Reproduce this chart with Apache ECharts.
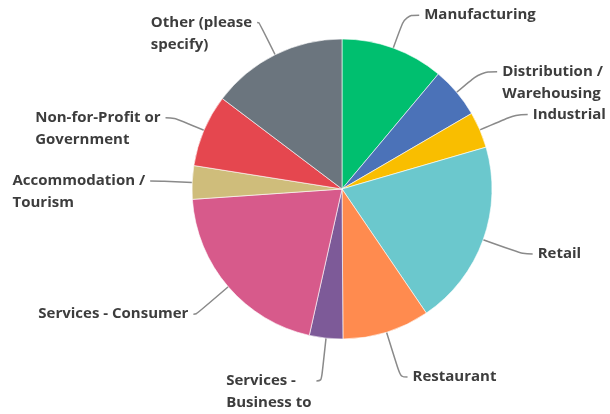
<!DOCTYPE html>
<html>
<head>
<meta charset="utf-8">
<script src="https://cdn.jsdelivr.net/npm/echarts@6/dist/echarts.min.js"></script>
<style>
  html, body { margin: 0; padding: 0; background: #fff; }
  #pie { width: 610px; height: 414px; }
</style>
</head>
<body>
<div id="pie"></div>
<script>
// categories clockwise from 12 o'clock
const categories = [
  'Manufacturing',
  'Distribution /\nWarehousing',
  'Industrial',
  'Retail',
  'Restaurant',
  'Services -\nBusiness to',
  'Services - Consumer',
  'Accommodation /\nTourism',
  'Non-for-Profit or\nGovernment',
  'Other (please\nspecify)'
]
// share of responses (%)
const shares = [11.1, 5.5, 3.9, 20.0, 9.4, 3.6, 20.4, 3.6, 7.8, 14.7]

const colorList = ['#00BF6F', '#4B72B8', '#F9BE00', '#6BC8CD', '#FF8B4F',
  '#7D5A98', '#D75A8B', '#CFBD7B', '#E5474F', '#6B757E']

// label line [length, length2] per slice, tuned by eye
const lineLen = [[35, 14], [32, 16], [39, 12], [42, 10], [47, 7],
  [43, 5], [42, 3], [30, 12], [32, 9], [36, 2]]

const LH = 22
let pieData = categories.map((name, i) => {
  const lines = name.split('\n')
  return {
    name: name,
    value: shares[i],
    itemStyle: { color: colorList[i] },
    label: {
      // push multi-line blocks down so the line meets the first row
      padding: lines.length > 1 ? [LH * (lines.length - 1), 0, 0, 0] : 0
    },
    labelLine: { length: lineLen[i][0], length2: lineLen[i][1] }
  }
})

let pieOption = {
  animation: false,
  series: [
    {
      type: 'pie',
      center: [342, 189],
      radius: 150,
      startAngle: 90,
      clockwise: true,
      avoidLabelOverlap: false,
      itemStyle: { borderColor: '#fff', borderWidth: 0.6 },
      label: {
        show: true,
        formatter: p => p.name.split('\n').map(s => '{a|' + s + '}').join('\n'),
        rich: {
          a: {
            align: 'left',
            fontFamily: 'Open Sans',
            fontWeight: 'bold',
            fontSize: 15,
            lineHeight: LH,
            color: '#3d3d3d'
          }
        }
      },
      labelLine: {
        show: true,
        smooth: 0.4,
        lineStyle: { color: '#8a8a8a', width: 1.5 }
      },
      data: pieData
    }
  ]
}

let pieChart = echarts.init(document.getElementById('pie'))
pieChart.setOption(pieOption)
</script>
</body>
</html>
